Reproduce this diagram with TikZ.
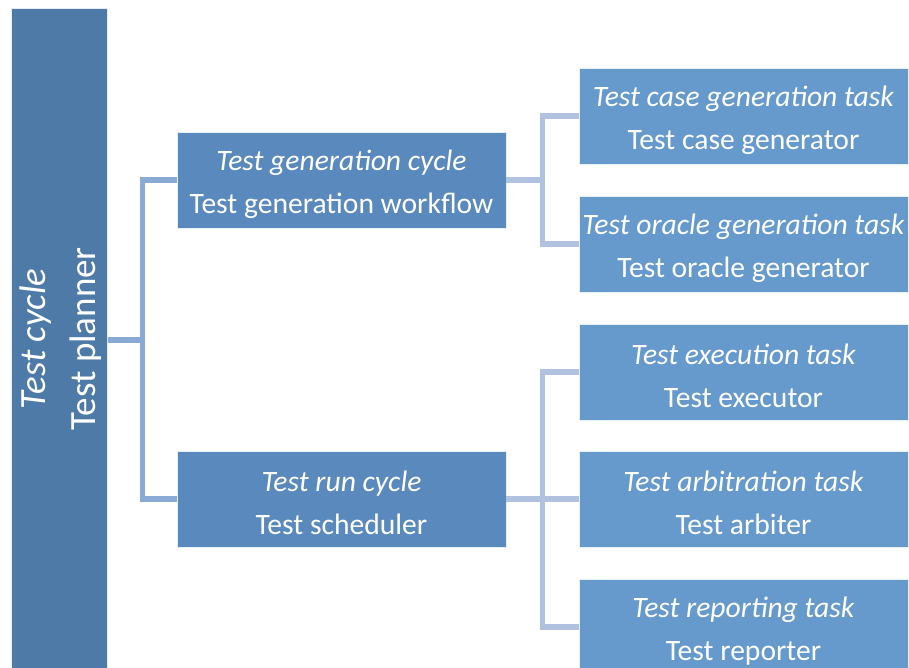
\documentclass[tikz,border=0pt]{standalone}
\usepackage{fontspec}
\setmainfont{Carlito}
\definecolor{barc}{HTML}{4E7AA7}
\definecolor{midc}{HTML}{5A89BD}
\definecolor{rightc}{HTML}{6699CC}
\definecolor{linea}{HTML}{8AAAD6}
\definecolor{lineb}{HTML}{B0C2DF}
\tikzset{
  box/.style={draw=white!85!rightc, line width=0.6pt, minimum width=329pt, minimum height=96pt, inner sep=0pt},
  midbox/.style={box, fill=midc},
  rightbox/.style={box, fill=rightc},
  boxtext/.style={text=white, align=center, inner sep=0pt, font=\fontsize{29.6}{43}\selectfont},
  conna/.style={draw=linea, line width=5.5pt},
  connb/.style={draw=lineb, line width=5.5pt}
}
\begin{document}
\begin{tikzpicture}[x=1pt,y=-1pt]
\useasboundingbox (0,0) rectangle (909,668);
\begin{scope}
\clip (0,0) rectangle (909,668);
\node[draw=white!85!barc, line width=0.6pt, fill=barc, minimum width=96pt, minimum height=680pt, inner sep=0pt, anchor=north west] (plan) at (11,8) {};
\node[text=white, rotate=90, align=center, inner sep=0pt, font=\fontsize{37}{50}\selectfont] (plantext) at (61,339) {\textit{Test cycle}\\Test planner};
\node[midbox] (gen) at (341.5,180) {};
\node[midbox] (run) at (341.5,499) {};
\node[rightbox] (case) at (743.5,116) {};
\node[rightbox] (oracle) at (743.5,244) {};
\node[rightbox] (exec) at (743.5,372) {};
\node[rightbox] (arb) at (743.5,499) {};
\node[rightbox] (rep) at (743.5,627) {};
\node[boxtext] (gen-t) at ([yshift=-4pt]gen.center) {\textit{Test generation cycle}\\Test generation workflow};
\node[boxtext] (run-t) at ([yshift=-4pt]run.center) {\textit{Test run cycle}\\Test scheduler};
\node[boxtext] (case-t) at ([yshift=-4pt]case.center) {\textit{Test case generation task}\\Test case generator};
\node[boxtext] (oracle-t) at ([yshift=-4pt]oracle.center) {\textit{Test oracle generation task}\\Test oracle generator};
\node[boxtext] (exec-t) at ([yshift=-4pt]exec.center) {\textit{Test execution task}\\Test executor};
\node[boxtext] (arb-t) at ([yshift=-4pt]arb.center) {\textit{Test arbitration task}\\Test arbiter};
\node[boxtext] (rep-t) at ([yshift=-4pt]rep.center) {\textit{Test reporting task}\\Test reporter};
\end{scope}
\coordinate (j1) at (142.5,340);
\coordinate (j2) at (542.5,180);
\coordinate (j3) at (542.5,499);
\draw[conna] (plan.east |- j1) -- (j1);
\draw[conna] (gen.west) -| (j1) |- (run.west);
\draw[connb] (gen.east) -- (j2);
\draw[connb] (case.west) -| (j2) |- (oracle.west);
\draw[connb] (run.east) -- (arb.west);
\draw[connb] (exec.west) -| (j3) |- (rep.west);
\end{tikzpicture}
\end{document}
